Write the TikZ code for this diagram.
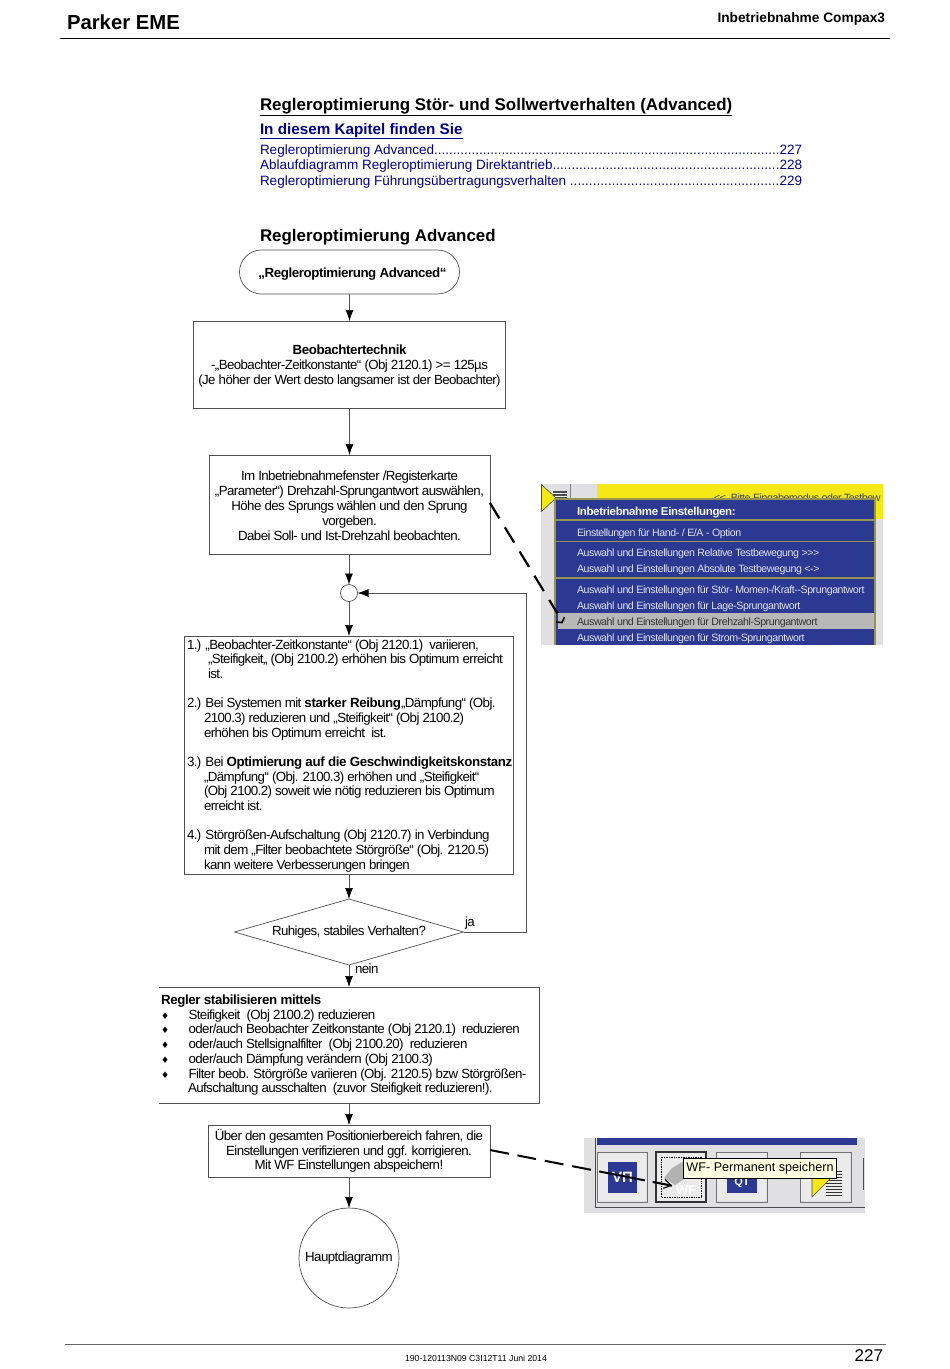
\documentclass[tikz,border=0pt]{standalone}
\usepackage{fontspec}
\usetikzlibrary{shapes.geometric,arrows.meta,calc}
\setmainfont{Liberation Sans}
\newfontfamily\symfont{DejaVu Sans}
\definecolor{tocblue}{RGB}{0,0,140}
\definecolor{menublue}{RGB}{44,57,146}
\definecolor{menuline}{RGB}{150,148,80}
\definecolor{shotgray}{RGB}{224,224,226}
\definecolor{shotyellow}{RGB}{245,232,20}
\definecolor{tipyellow}{RGB}{255,255,225}
\definecolor{rule}{RGB}{80,80,80}
\newcommand{\fs}[2]{\fontsize{#1}{#2}\selectfont}
\newcommand{\bul}{{\symfont\fontsize{9}{9}\selectfont ♦}\hspace*{19.5pt}}
\newcommand{\tight}{\addfontfeature{LetterSpace=-4.4}}
\newcommand{\tighter}{\addfontfeature{LetterSpace=-4}}
\newcommand{\bt}[1]{{\bfseries\addfontfeature{LetterSpace=-2.7}#1}}
\newcommand{\tocline}[2]{\makebox[542pt][l]{#1\xleaders\hbox{.}\hfill#2}}
\tikzset{
 x=1pt,y=-1pt,
 every node/.style={inner sep=0pt,outer sep=0pt},
 box/.style={draw=rule,line width=0.7pt,fill=white,anchor=north west},
 body/.style={font=\fs{13.3}{14.7}\tight,align=center,text=black},
 bodyl/.style={font=\fs{13.3}{14.67}\tight,align=left,anchor=north west,text=black},
 flow/.style={draw=rule,line width=0.7pt,-{Latex[length=11pt,width=8pt,black]}},
 plain/.style={draw=rule,line width=0.7pt},
 lead/.style={draw=black,line width=2.2pt,dash pattern=on 18pt off 10.4pt},
 toc/.style={font=\fs{13.5}{15},text=tocblue,anchor=base west},
 menu/.style={font=\fs{10.6}{12}\tighter,text=white!85!menublue,anchor=base west},
}
\begin{document}
\begin{tikzpicture}
\useasboundingbox (0,0) rectangle (950,1369);
% header
\node[font=\fs{20.3}{20}\bfseries,anchor=base west] (hl) at (67,29) {Parker EME};
\node[font=\fs{13.7}{14}\bfseries,anchor=base east] (hr) at (885,22) {Inbetriebnahme Compax3};
\coordinate (ha) at (60,38.5); \coordinate (hb) at (890,38.5);
\draw[line width=0.9pt] (ha) -- (hb);
% headings
\node[font=\fs{16.9}{18}\bfseries,anchor=base west] (title) at (260,110) {\underline{Regleroptimierung Stör- und Sollwertverhalten (Advanced)}};
\node[font=\fs{15.25}{16}\bfseries,anchor=base west,text=tocblue] (kap) at (260,134) {\underline{In diesem Kapitel finden Sie}};
\node[toc] (t1) at (260,154) {\tocline{Regleroptimierung Advanced}{227}};
\node[toc] (t2) at (260,169) {\tocline{Ablaufdiagramm Regleroptimierung Direktantrieb}{228}};
\node[toc] (t3) at (260,185) {\tocline{Regleroptimierung Führungsübertragungsverhalten }{229}};
\node[font=\fs{16.9}{18}\bfseries,anchor=base west] (sec) at (260,241) {Regleroptimierung Advanced};
% flow nodes
\node[draw=rule,line width=0.7pt,rounded corners=21.9pt,minimum width=220pt,minimum height=44pt,anchor=north west,font=\fs{13.3}{15}\bfseries\addfontfeature{LetterSpace=-3.1},text depth=0pt] (start) at (239.5,250) {\hspace*{6pt}\raisebox{-1.5pt}{„Regleroptimierung Advanced“}};
\node[box,minimum width=312pt,minimum height=87pt,body,font=\fs{13.3}{15}\tight] (beo) at (193.5,321) {\rule{0pt}{12pt}\bt{Beobachtertechnik}\\-„Beobachter-Zeitkonstante“ (Obj 2120.1) >= 125µs\\(Je höher der Wert desto langsamer ist der Beobachter)};
\node[box,minimum width=281pt,minimum height=99pt,body,font=\fs{13.3}{15}\tight] (im) at (209,455) {\rule{0pt}{12pt}Im Inbetriebnahmefenster /Registerkarte\\„Parameter“) Drehzahl-Sprungantwort auswählen,\\Höhe des Sprungs wählen und den Sprung\\vorgeben.\\Dabei Soll- und Ist-Drehzahl beobachten.};
\node[circle,draw=rule,line width=0.7pt,minimum size=17pt] (join) at (349,593) {};
\node[box,minimum width=329pt,minimum height=238pt] (opt) at (184.5,636) {};
\node[bodyl] (optt) at (187,639.5) {1.) „Beobachter-Zeitkonstante“ (Obj 2120.1)\ \ variieren,\\
\hspace*{21pt}„Steifigkeit„ (Obj 2100.2) erhöhen bis Optimum erreicht\\
\hspace*{21pt}ist.\\[14.67pt]
2.) Bei Systemen mit \bt{starker Reibung}„Dämpfung“ (Obj.\\
\hspace*{17pt}2100.3) reduzieren und „Steifigkeit“ (Obj 2100.2)\\
\hspace*{17pt}erhöhen bis Optimum erreicht\ \ ist.\\[14.67pt]
3.) Bei \bt{Optimierung auf die Geschwindigkeitskonstanz}\\
\hspace*{17pt}„Dämpfung“ (Obj. 2100.3) erhöhen und „Steifigkeit“\\
\hspace*{17pt}(Obj 2100.2) soweit wie nötig reduzieren bis Optimum\\
\hspace*{17pt}erreicht ist.\\[14.67pt]
4.) Störgrößen-Aufschaltung (Obj 2120.7) in Verbindung\\
\hspace*{17pt}mit dem „Filter beobachtete Störgröße“ (Obj. 2120.5)\\
\hspace*{17pt}kann weitere Verbesserungen bringen};
\node[diamond,draw=rule,line width=0.7pt,minimum width=229pt,minimum height=66pt,aspect=3.47,inner sep=0pt] (dec) at (349,932) {};
\node[body] (dect) at (349,932.5) {Ruhiges, stabiles Verhalten?};
\node[box,draw=none,minimum width=381pt,minimum height=116pt] (reg) at (158.5,987) {};
\draw[plain] (reg.north west) -- (reg.north east) -- (reg.south east) -- (reg.south west);
\node[bodyl] (regt) at (161,995) {\bt{Regler stabilisieren mittels}\\
\bul Steifigkeit\ \ (Obj 2100.2) reduzieren\\
\bul oder/auch Beobachter Zeitkonstante (Obj 2120.1)\ \ reduzieren\\
\bul oder/auch Stellsignalfilter\ \ (Obj 2100.20)\ \ reduzieren\\
\bul oder/auch Dämpfung verändern (Obj 2100.3)\\
\bul Filter beob. Störgröße variieren (Obj. 2120.5) bzw Störgrößen-\\
\hspace*{27pt}Aufschaltung ausschalten\ \ (zuvor Steifigkeit reduzieren!).};
\node[box,minimum width=282pt,minimum height=52pt,body] (ueb) at (208,1125) {Über den gesamten Positionierbereich fahren, die\\Einstellungen verifizieren und ggf. korrigieren.\\Mit WF Einstellungen abspeichern!};
\node[circle,draw=rule,line width=0.7pt,minimum size=100pt,body] (haupt) at (349,1258) {Hauptdiagramm};
% connectors
\draw[flow] (start) -- (start |- beo.north);
\draw[flow] (beo) -- (beo |- im.north);
\draw[flow] (im.south -| join) -- (join.north);
\draw[flow] (join) -- (join |- opt.north);
\draw[flow] (dec.north |- opt.south) -- (dec.north);
\draw[flow] (dec.south) -- (dec.south |- reg.north);
\draw[flow] (ueb.north |- reg.south) -- (ueb.north);
\draw[flow] (ueb.south -| haupt) -- (haupt.north);
\coordinate (back) at (526,932);
\coordinate (backt) at (526,593);
\draw[flow] (dec.east) -- (back) -- (backt) -- (join.east);
\node[font=\fs{13.3}{14}\tight,anchor=base west] (ja) at (465,926) {ja};
\node[font=\fs{13.3}{14}\tight,anchor=base west] (nein) at (355,973) {nein};
% screenshot 1
\fill[shotgray] (541,484) rectangle (883,645);
\fill[shotyellow] (597,484) rectangle (883,519);
\draw[line width=0.8pt,black!50] (570,484) -- (570,500);
\begin{scope}
\clip (541,484) rectangle (883,500);
\node[font=\fs{10.6}{11}\tighter,anchor=base west,text=black!75] (bitte) at (714,501) {<{}<\ \ Bitte Eingabemodus oder Testbew};
\end{scope}
\fill[black!70] (553,491) rectangle (567,500);
\draw[white,line width=0.8pt] (553,493.5) -- (567,493.5) (553,496.5) -- (567,496.5);
\draw[black!70,fill=shotyellow,line width=0.6pt] (541.5,484.5) -- (556,498) -- (541.5,511.5) -- cycle;
\fill[menublue] (555,499) rectangle (875,645);
\draw[menuline,line width=1.3pt] (555,645) -- (555,499) -- (875,499) -- (875,645);
\draw[menuline,line width=1.3pt] (556,520) -- (875,520) (556,541.5) -- (875,541.5) (556,578) -- (875,578);
\fill[black!28] (558,613) rectangle (874,629);
\node[menu,font=\fs{11.5}{12}\bfseries\addfontfeature{LetterSpace=-3},text=white] (m0) at (577,515) {Inbetriebnahme Einstellungen:};
\node[menu] (m1) at (577,536) {Einstellungen für Hand- / E/A - Option};
\node[menu] (m2) at (577,556.5) {Auswahl und Einstellungen Relative Testbewegung >{}>{}>};
\node[menu] (m3) at (577,572.5) {Auswahl und Einstellungen Absolute Testbewegung <->};
\node[menu] (m4) at (577,593) {Auswahl und Einstellungen für Stör- Momen-/Kraft-{}-Sprungantwort};
\node[menu] (m5) at (577,609) {Auswahl und Einstellungen für Lage-Sprungantwort};
\node[menu,text=black!80] (m6) at (577,625) {Auswahl und Einstellungen für Drehzahl-Sprungantwort};
\node[menu] (m7) at (577,641) {Auswahl und Einstellungen für Strom-Sprungantwort};
\coordinate (check) at (557.5,613.5);
\draw[line width=1.6pt] (556,622) -- (562,622.5) -- (564.5,617);
\draw[lead] (im.east |- 0,503) -- (check);
% screenshot 2
\fill[shotgray] (584,1138) rectangle (865,1213);
\fill[menublue] (597,1138) rectangle (857,1145);
\draw[black!70,line width=1pt] (595,1138) -- (595,1207) -- (865,1207);
\draw[black!55,line width=0.8pt] (597,1152) rectangle (647,1202);
\fill[white!92!black] (598,1153) rectangle (646,1201);
\fill[menublue] (608,1162) rectangle (637,1193);
\node[font=\fs{15}{15}\bfseries,text=white] (vp) at (622.5,1177) {VП};
\draw[black!80,line width=1.5pt] (656,1152) rectangle (706,1202);
\fill[white!92!black] (657,1153) rectangle (705,1201);
\draw[black,densely dotted,line width=0.7pt] (661,1157) rectangle (701,1197);
\fill[black!30] (664,1178) -- (672,1168) -- (686,1160) -- (690,1175) -- (675,1185) -- cycle;
\node[font=\fs{13}{13}\bfseries,text=white] (wf) at (686,1190) {WF};
\draw[black!55,line width=0.8pt] (716,1152) rectangle (767,1202);
\fill[white!92!black] (717,1153) rectangle (766,1201);
\fill[menublue] (727,1175) rectangle (757,1193);
\node[font=\fs{11}{11}\bfseries,text=white] (qt) at (742,1183) {QT};
\draw[black!55,line width=0.8pt] (800,1152) rectangle (851,1202);
\fill[white!92!black] (801,1153) rectangle (850,1201);
\foreach \yy in {1171,1174,1177,1180,1183,1186,1189,1192,1195} \draw[black!80,line width=1pt] (826,\yy) -- (842,\yy);
\draw[black!70,fill=shotyellow,line width=0.6pt] (812,1197) -- (812,1178) -- (831,1178) -- cycle;
\draw[black!70,line width=1pt] (863,1158) -- (863,1190);
\node[draw=black,line width=0.7pt,fill=tipyellow,minimum width=153pt,minimum height=20pt,font=\fs{12.6}{13},anchor=north west] (tip) at (683.5,1158) {WF- Permanent speichern};
\coordinate (wfpt) at (672,1185.7);
\draw[lead,line width=2pt,dash pattern=on 19.5pt off 8.5pt on 18.8pt off 9pt on 19pt off 9pt on 19pt off 8.5pt on 46.5pt off 8pt on 25pt] (ueb.east |- 0,1150) -- (wfpt);
\draw[-{Straight Barb[length=7pt,width=9pt]},line width=1.1pt] (660,1183) -- (wfpt);
% footer
\coordinate (fa) at (65,1344); \coordinate (fb) at (886,1344);
\draw[black!60,line width=0.8pt] (fa) -- (fb);
\node[font=\fs{8.7}{9},anchor=base] (fc) at (476,1361) {190-120113N09 C3I12T11 Juni 2014};
\node[font=\fs{17}{17},anchor=base east] (pg) at (883,1361) {227};
\end{tikzpicture}
\end{document}
